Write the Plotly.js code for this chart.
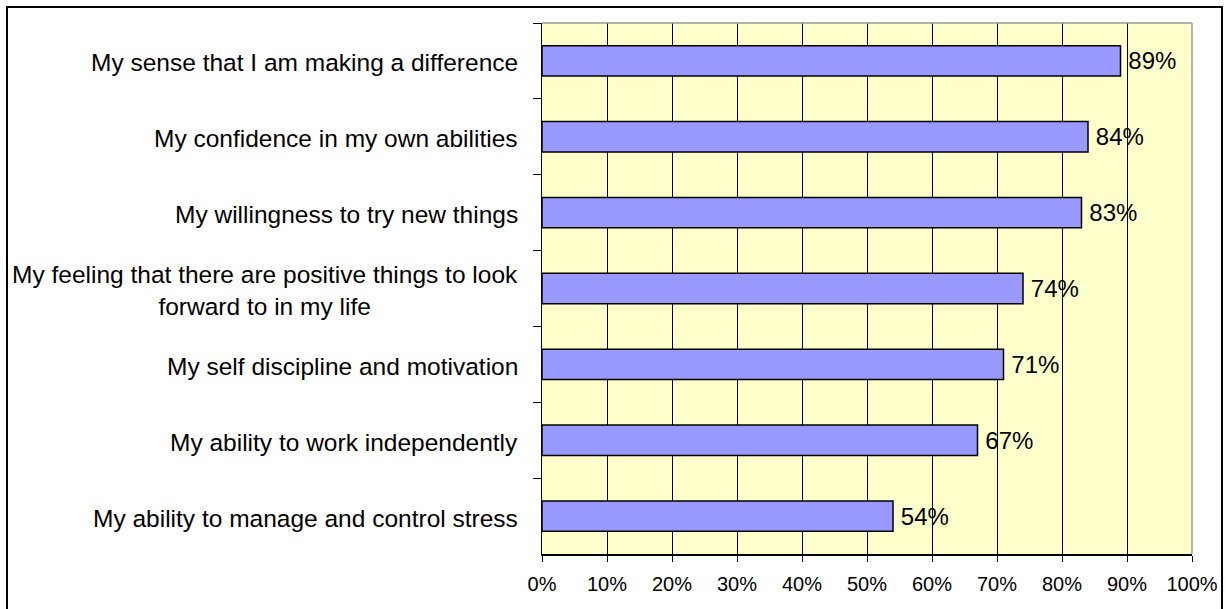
<!DOCTYPE html>
<html>
<head>
<meta charset="utf-8">
<script src="https://cdn.plot.ly/plotly-3.0.1.min.js"></script>
<style>
  html, body { margin: 0; padding: 0; background: #fff; overflow: hidden; }
  #chart { position: absolute; left: 0; top: 0; width: 1226px; height: 609px; }
  #frame {
    position: absolute; left: 6px; top: 6px; width: 1213px; height: 640px;
    border-left: 2px solid #000; border-top: 2px solid #000; border-right: 2px solid #000;
    pointer-events: none;
  }
</style>
</head>
<body>
<div id="chart"></div>
<div id="frame"></div>
<script>
// Survey items, top to bottom
const categories = [
  "My sense that I am making a difference",
  "My confidence in my own abilities",
  "My willingness to try new things",
  "My feeling that there are positive things to look<br>forward to in my life",
  "My self discipline and motivation",
  "My ability to work independently",
  "My ability to manage and control stress"
];
// Share of respondents (%)
const values = [89, 84, 83, 74, 71, 67, 54];
const tickValues = [0, 10, 20, 30, 40, 50, 60, 70, 80, 90, 100];

const FONT = "Liberation Sans, Arial, sans-serif";

const trace = {
  type: "bar",
  orientation: "h",
  x: values,
  y: categories,
  marker: { color: "#9999FF", line: { color: "#000000", width: 1.5 } },
  // thin space keeps the value label a little off the bar end
  text: values.map(v => "\u2009" + v + "%"),
  texttemplate: "%{text}",
  textposition: "outside",
  constraintext: "none",
  cliponaxis: false,
  textfont: { family: FONT, size: 24, color: "#000" },
  hoverinfo: "skip"
};

// Category labels as centred, right-anchored text blocks
const labelNotes = categories.map(c => ({
  x: 0, xref: "paper",
  y: c, yref: "y",
  xanchor: "right", yanchor: "middle",
  xshift: -22,
  yshift: -2,
  align: "center",
  text: c,
  showarrow: false,
  font: { family: FONT, size: 24.5, color: "#000" }
}));

const layout = {
  width: 1226,
  height: 609,
  margin: { l: 542, r: 34, t: 23, b: 55 },
  paper_bgcolor: "#ffffff",
  plot_bgcolor: "#FFFFCC",
  bargap: 0.6,
  showlegend: false,
  font: { family: FONT, color: "#000" },
  xaxis: {
    range: [0, 100],
    tickmode: "array",
    tickvals: tickValues,
    ticktext: tickValues.map(v => v + "%"),
    showgrid: true,
    gridcolor: "#000000",
    gridwidth: 1,
    zeroline: false,
    showline: true,
    linecolor: "#000000",
    linewidth: 1.5,
    ticks: "outside",
    ticklen: 6,
    tickcolor: "#000",
    tickwidth: 1,
    ticklabelstandoff: 5,
    tickfont: { family: FONT, size: 20, color: "#000" },
    fixedrange: true
  },
  yaxis: {
    type: "category",
    categoryorder: "array",
    categoryarray: categories,
    autorange: "reversed",
    showticklabels: false,
    tickson: "boundaries",
    ticks: "outside",
    ticklen: 8,
    tickcolor: "#000",
    tickwidth: 1,
    showgrid: false,
    zeroline: false,
    showline: true,
    linecolor: "#000000",
    linewidth: 1.5,
    fixedrange: true
  },
  shapes: [
    {
      type: "line", xref: "paper", yref: "paper",
      x0: 0, x1: 1, y0: 1, y1: 1,
      line: { color: "#999999", width: 1.5 }
    },
    {
      type: "line", xref: "paper", yref: "paper",
      x0: 1, x1: 1, y0: 0, y1: 1,
      line: { color: "#999999", width: 1.5 }
    }
  ],
  annotations: labelNotes
};

Plotly.newPlot("chart", [trace], layout, { displayModeBar: false, staticPlot: true });
</script>
</body>
</html>
